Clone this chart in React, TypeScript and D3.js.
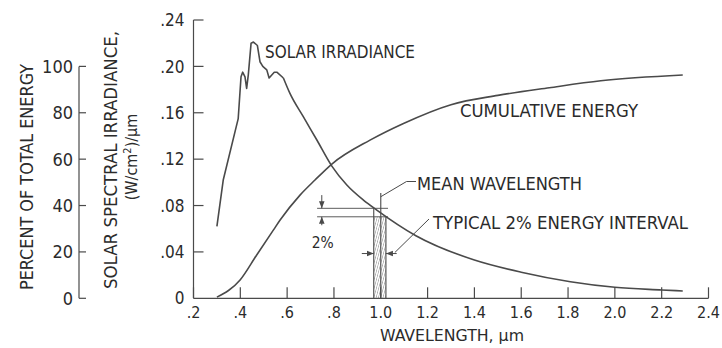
import React from "react";
import * as d3 from "d3";

// ---- data ----
const irrWl = [0.30, 0.327, 0.391, 0.403, 0.410, 0.420, 0.427, 0.434, 0.446, 0.456, 0.473, 0.484, 0.496, 0.513, 0.523, 0.545, 0.556, 0.584, 0.612, 0.669, 0.727, 0.791, 0.855, 0.926, 0.983, 1.15, 1.40, 1.60, 1.81, 2.00, 2.20, 2.29];
const irrVal = [0.062, 0.102, 0.155, 0.191, 0.195, 0.191, 0.181, 0.1925, 0.220, 0.221, 0.218, 0.204, 0.200, 0.197, 0.190, 0.195, 0.195, 0.190, 0.1767, 0.1566, 0.1365, 0.114, 0.0977, 0.0847, 0.0761, 0.054, 0.033, 0.0225, 0.0143, 0.0095, 0.0072, 0.0063];

const cumWl = [0.30, 0.399, 0.47, 0.541, 0.570, 0.655, 0.719, 0.791, 0.954, 1.097, 1.30, 1.50, 1.72, 1.94, 2.29];
const cumPct = [0.5, 7.9, 18.7, 29.4, 33.75, 44.5, 51, 57.9, 68.2, 75.4, 83.5, 87.5, 90.8, 93.8, 96.3];

const xTicks = [0.2, 0.4, 0.6, 0.8, 1.0, 1.2, 1.4, 1.6, 1.8, 2.0, 2.2, 2.4];
const xTickLabels = [".2", ".4", ".6", ".8", "1.0", "1.2", "1.4", "1.6", "1.8", "2.0", "2.2", "2.4"];
const irrTicks = [0, 0.04, 0.08, 0.12, 0.16, 0.20, 0.24];
const irrTickLabels = ["0", ".04", ".08", ".12", ".16", ".20", ".24"];
const pctTicks = [0, 20, 40, 60, 80, 100];
const pctTickLabels = ["0", "20", "40", "60", "80", "100"];

// annotation (data units)
const meanWl = 1.0;
const bandLo = 0.97;
const bandHi = 1.022;
const levelHi = 0.0776;
const levelLo = 0.0703;
const jaggedEnd = 0.584; // the spiky peak is drawn with straight segments

const FONT = "'Liberation Sans Narrow', 'DejaVu Sans Condensed', 'Arial Narrow', sans-serif";
const INK = "#2b2b2b";
const LINE = "#4a4a4a";

export default function App() {
  const W = 722, H = 348;
  const x = d3.scaleLinear().domain([0.2, 2.4]).range([193.5, 708.5]);
  const yI = d3.scaleLinear().domain([0, 0.24]).range([298.3, 20]);
  const yP = d3.scaleLinear().domain([0, 100]).range([298.3, yI(0.2)]);

  const irrPts: [number, number][] = irrWl.map((w, i) => [w, irrVal[i]]);
  const peakPts = irrPts.filter((p) => p[0] <= jaggedEnd);
  const tailPts = irrPts.filter((p) => p[0] >= jaggedEnd);
  const irrPeakPath = d3.line<[number, number]>()
    .x((d) => x(d[0])).y((d) => yI(d[1]))
    .curve(d3.curveLinear)(peakPts) || "";
  const irrTailPath = d3.line<[number, number]>()
    .x((d) => x(d[0])).y((d) => yI(d[1]))
    .curve(d3.curveMonotoneX)(tailPts) || "";
  const cumPath = d3.line<number>()
    .x((_, i) => x(cumWl[i]))
    .y((d) => yP(d))
    .curve(d3.curveMonotoneX)(cumPct) || "";

  const base = yI(0);
  const leftAxisX = 79;

  const hLineX0 = x(0.728);
  const hLineX1 = x(1.031);
  const dimX = x(0.748);
  const arrowY = yI(0.0386);

  return (
    <svg width={W} height={H} style={{ position: "absolute", left: 0, top: 0, background: "#fff" }} fontFamily={FONT}>
      <defs>
        <pattern id="hatch" width="2.2" height="6" patternUnits="userSpaceOnUse" patternTransform="rotate(15)">
          <line x1="0" y1="0" x2="0" y2="6" stroke="#666" strokeWidth="0.8" />
        </pattern>
        <marker id="ah" viewBox="0 0 10 10" refX="10" refY="5" markerWidth="7" markerHeight="7" orient="auto-start-reverse" markerUnits="userSpaceOnUse">
          <path d="M0,1 L10,5 L0,9 z" fill={LINE} />
        </marker>
      </defs>
      <rect width={W} height={H} fill="#fff" />

      {/* left percent axis */}
      <line x1={leftAxisX} x2={leftAxisX} y1={yP(0)} y2={yP(100)} stroke={LINE} strokeWidth={1.2} />
      {pctTicks.map((t, i) => (
        <g key={"p" + t}>
          <line x1={leftAxisX} x2={leftAxisX + 7} y1={yP(t)} y2={yP(t)} stroke={LINE} strokeWidth={1.2} />
          <text x={leftAxisX - 6} y={yP(t)} dy="0.36em" textAnchor="end" fontSize={18} fill={INK}>{pctTickLabels[i]}</text>
        </g>
      ))}
      <text transform="translate(33,177) rotate(-90)" textAnchor="middle" fontSize={18} fill={INK} textLength={226} lengthAdjust="spacingAndGlyphs">PERCENT OF TOTAL ENERGY</text>
      <text transform="translate(117,160) rotate(-90)" textAnchor="middle" fontSize={18} fill={INK} textLength={258} lengthAdjust="spacingAndGlyphs">SOLAR SPECTRAL IRRADIANCE,</text>
      <text transform="translate(137,157) rotate(-90)" textAnchor="middle" fontSize={16} fill={INK}>
        (W/cm<tspan dy="-6" fontSize={11}>2</tspan><tspan dy="6">)/µm</tspan>
      </text>

      {/* irradiance axis */}
      <line x1={x(0.2)} x2={x(0.2)} y1={base} y2={yI(0.24)} stroke={LINE} strokeWidth={1.2} />
      {irrTicks.map((t, i) => (
        <g key={"i" + t}>
          {t > 0 && <line x1={x(0.2)} x2={x(0.2) + 10} y1={yI(t)} y2={yI(t)} stroke={LINE} strokeWidth={1.2} />}
          <text x={x(0.2) - 9} y={yI(t)} dy="0.36em" textAnchor="end" fontSize={17} fill={INK}>{irrTickLabels[i]}</text>
        </g>
      ))}

      {/* x axis */}
      <line x1={x(0.2)} x2={x(2.4)} y1={base} y2={base} stroke={LINE} strokeWidth={1.2} />
      {xTicks.map((t, i) => (
        <g key={"x" + t}>
          <line x1={x(t)} x2={x(t)} y1={base} y2={base - 11} stroke={LINE} strokeWidth={1.2} />
          <text x={x(t)} y={318} textAnchor="middle" fontSize={16} fill={INK}>{xTickLabels[i]}</text>
        </g>
      ))}
      <text x={452} y={341} textAnchor="middle" fontSize={16} fill={INK} textLength={144} lengthAdjust="spacingAndGlyphs">WAVELENGTH, µm</text>

      {/* hatched band */}
      <rect x={x(bandLo)} y={yI(levelLo)} width={x(bandHi) - x(bandLo)} height={base - yI(levelLo)} fill="url(#hatch)" />
      <line x1={x(bandLo)} x2={x(bandLo)} y1={base} y2={yI(levelHi)} stroke={LINE} strokeWidth={1.1} />
      <line x1={x(bandHi)} x2={x(bandHi)} y1={base} y2={yI(levelLo)} stroke={LINE} strokeWidth={1.1} />
      <line x1={x(meanWl)} x2={x(meanWl)} y1={base} y2={yI(0.0908)} stroke={LINE} strokeWidth={1.1} />

      {/* curves */}
      <path d={irrPeakPath} fill="none" stroke={LINE} strokeWidth={1.6} strokeLinejoin="round" />
      <path d={irrTailPath} fill="none" stroke={LINE} strokeWidth={1.6} />
      <path d={cumPath} fill="none" stroke={LINE} strokeWidth={1.6} />

      {/* 2% dimension */}
      <line x1={hLineX0} x2={hLineX1} y1={yI(levelHi)} y2={yI(levelHi)} stroke={LINE} strokeWidth={0.9} />
      <line x1={hLineX0} x2={hLineX1} y1={yI(levelLo)} y2={yI(levelLo)} stroke={LINE} strokeWidth={0.9} />
      <line x1={dimX} x2={dimX} y1={yI(0.089)} y2={yI(levelHi)} stroke={LINE} strokeWidth={1} markerEnd="url(#ah)" />
      <line x1={dimX} x2={dimX} y1={yI(0.063)} y2={yI(levelLo)} stroke={LINE} strokeWidth={1} markerEnd="url(#ah)" />
      <text x={dimX + 1} y={248} textAnchor="middle" fontSize={16} fill={INK} textLength={22} lengthAdjust="spacingAndGlyphs">2%</text>

      {/* band width arrows */}
      <line x1={x(0.919)} x2={x(bandLo)} y1={arrowY} y2={arrowY} stroke={LINE} strokeWidth={1} markerEnd="url(#ah)" />
      <line x1={x(1.068)} x2={x(bandHi)} y1={arrowY} y2={arrowY} stroke={LINE} strokeWidth={1} markerEnd="url(#ah)" />

      {/* leaders */}
      <polyline points={`${x(meanWl)},${yI(0.0876)} ${406.5},${181.5} ${416},${181.5}`} fill="none" stroke={LINE} strokeWidth={1} />
      <line x1={429} y1={219} x2={x(1.06)} y2={arrowY - 1} stroke={LINE} strokeWidth={1} />

      {/* labels */}
      <text x={265} y={58} fontSize={17} fill={INK} textLength={150} lengthAdjust="spacingAndGlyphs">SOLAR IRRADIANCE</text>
      <text x={460} y={117} fontSize={17} fill={INK} textLength={178} lengthAdjust="spacingAndGlyphs">CUMULATIVE ENERGY</text>
      <text x={417} y={190} fontSize={17} fill={INK} textLength={165} lengthAdjust="spacingAndGlyphs">MEAN WAVELENGTH</text>
      <text x={433} y={229} fontSize={17} fill={INK} textLength={255} lengthAdjust="spacingAndGlyphs">TYPICAL 2% ENERGY INTERVAL</text>
    </svg>
  );
}
